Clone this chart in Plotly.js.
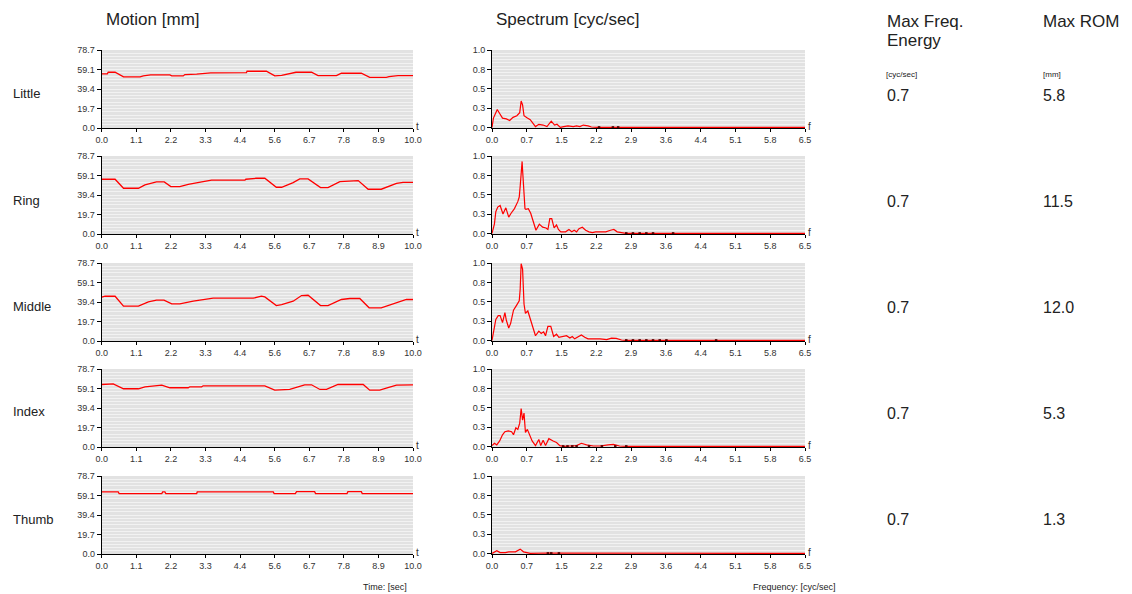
<!DOCTYPE html>
<html><head><meta charset="utf-8">
<script src="https://cdn.plot.ly/plotly-3.0.1.min.js"></script>
<style>html,body{margin:0;padding:0;background:#fff;} #chart{width:1132px;height:594px;}</style>
</head><body><div id="chart"></div>
<script>
// ---------- DATA ----------
const fingers = ['Little', 'Ring', 'Middle', 'Index', 'Thumb'];
const maxFreqEnergy = ['0.7', '0.7', '0.7', '0.7', '0.7'];
const maxROM = ['5.8', '11.5', '12.0', '5.3', '1.3'];

const timeTickText = ['0.0','1.1','2.2','3.3','4.4','5.6','6.7','7.8','8.9','10.0'];
const freqTickText = ['0.0','0.7','1.5','2.2','2.9','3.6','4.4','5.1','5.8','6.5'];
const motionTickText = ['0.0','19.7','39.4','59.1','78.7'];
const spectrumTickText = ['0.0','0.3','0.5','0.8','1.0'];
const timeMax = 10, freqMax = 6.55, motionMax = 78.75, spectrumMax = 1.0;

// Motion [mm] vs time [sec]
const littleT = [0,0.18,0.21,0.43,0.70,1.23,1.34,1.57,2.19,2.25,2.62,2.67,3.05,3.50,4.65,4.67,5.29,5.56,5.78,6.04,6.24,6.74,6.95,7.54,7.70,8.34,8.61,9.14,9.23,9.52,10];
const littleY = [54.6,54.6,56.3,56.3,51.6,51.6,52.6,53.6,53.6,52.6,52.6,53.9,54.3,55.6,55.9,57.3,57.3,52.6,53.2,54.9,56.3,56.3,52.9,52.9,55.3,55.3,51.2,51.2,51.9,52.9,52.9];
const ringT = [0,0.43,0.70,1.18,1.39,1.76,2.01,2.22,2.51,2.78,3.26,3.53,4.60,4.63,4.97,5.24,5.61,5.78,6.15,6.36,6.63,7.03,7.27,7.65,8.24,8.56,8.98,9.20,9.47,9.68,10];
const ringY = [55.3,55.3,46.2,46.2,49.6,52.6,52.6,47.9,47.9,50.2,52.9,54.3,54.3,55.3,56.3,56.3,47.2,47.2,51.9,55.6,55.6,46.9,46.9,52.9,53.9,45.2,45.2,47.9,51.2,52.2,52.2];
const middleT = [0,0.11,0.43,0.70,1.18,1.50,1.76,2.00,2.25,2.51,2.94,3.58,4.87,5.13,5.24,5.61,5.78,6.15,6.42,6.63,7.03,7.27,7.70,7.97,8.29,8.59,8.98,9.36,9.57,9.79,10];
const middleY = [44.2,45.2,45.2,35.2,35.2,39.5,41.2,41.2,37.5,37.5,40.2,43.2,43.2,45.2,44.5,35.8,36.8,40.2,45.9,46.2,35.8,35.8,41.9,42.9,42.9,33.5,33.5,37.8,40.2,41.9,41.9];
const indexT = [0,0.37,0.70,1.18,1.39,1.76,1.93,2.19,2.78,2.83,3.21,3.26,5.24,5.56,6.04,6.52,6.74,7.01,7.22,7.59,8.40,8.61,8.93,9.25,9.47,10];
const indexY = [63.1,63.8,58.8,58.8,60.8,62.4,62.4,59.8,59.8,60.8,60.8,61.8,61.8,57.4,58.1,62.8,62.8,58.1,58.1,63.1,63.1,57.4,57.4,60.4,62.4,62.8];
const thumbT = [0,0.53,0.56,1.93,1.96,2.03,2.06,3.05,3.07,5.51,5.54,6.22,6.26,6.84,6.87,7.88,7.91,8.34,8.37,10];
const thumbY = [62.7,62.7,61.0,61.0,62.7,62.7,61.0,61.0,62.7,62.7,61.0,61.0,63.0,63.0,61.0,61.0,63.0,63.0,61.0,61.0];

// Spectrum (normalised) vs frequency [cyc/sec]
const littleF = [0,0.03,0.08,0.11,0.16,0.22,0.30,0.37,0.44,0.52,0.58,0.61,0.64,0.67,0.74,0.80,0.91,0.98,1.07,1.15,1.24,1.31,1.36,1.43,1.50,1.59,1.70,1.77,1.84,1.91,2.01,2.08,2.20,6.55];
const littleS = [0,0.12,0.19,0.23,0.18,0.12,0.11,0.09,0.13,0.15,0.19,0.34,0.29,0.15,0.12,0.10,0.01,0.04,0.03,0.01,0.08,0.03,0.04,0,0.01,0.02,0.01,0.02,0.01,0.03,0.02,0.005,0,0];
const ringF = [0,0.05,0.08,0.12,0.17,0.20,0.23,0.29,0.35,0.40,0.47,0.54,0.57,0.59,0.61,0.63,0.64,0.66,0.69,0.71,0.76,0.81,0.86,0.92,0.99,1.06,1.13,1.17,1.21,1.25,1.30,1.35,1.39,1.44,1.54,1.61,1.67,1.72,1.77,1.82,1.89,1.96,2.03,2.10,2.17,2.27,2.38,2.48,2.55,2.62,2.72,2.80,6.55];
const ringS = [0,0.12,0.28,0.34,0.36,0.30,0.25,0.33,0.21,0.26,0.32,0.41,0.47,0.61,0.84,0.93,0.82,0.57,0.32,0.31,0.32,0.26,0.17,0.04,0.12,0.08,0.07,0.05,0.19,0.19,0.07,0.11,0.05,0.02,0.02,0.05,0.02,0.04,0.02,0.06,0.08,0.04,0.02,0.01,0.02,0.02,0.02,0.04,0.05,0.02,0.005,0,0];
const middleF = [0,0.04,0.08,0.13,0.17,0.22,0.27,0.30,0.35,0.39,0.45,0.51,0.57,0.59,0.61,0.64,0.65,0.67,0.70,0.75,0.80,0.86,0.91,0.98,1.03,1.08,1.12,1.17,1.23,1.29,1.35,1.40,1.47,1.56,1.63,1.68,1.73,1.80,1.87,1.94,2.01,2.12,2.26,2.40,2.50,2.60,2.71,2.80,6.55];
const middleS = [0,0.16,0.27,0.32,0.32,0.23,0.36,0.26,0.16,0.22,0.39,0.45,0.51,0.66,0.99,0.92,0.66,0.47,0.35,0.38,0.28,0.16,0.06,0.12,0.09,0.11,0.06,0.18,0.18,0.05,0.08,0.04,0.05,0.06,0.03,0.05,0.02,0.05,0.07,0.04,0.02,0.02,0.02,0.01,0.03,0.025,0.005,0,0];
const indexF = [0,0.05,0.10,0.16,0.22,0.27,0.34,0.41,0.45,0.50,0.54,0.58,0.61,0.64,0.67,0.70,0.74,0.79,0.84,0.91,0.98,1.02,1.07,1.12,1.19,1.28,1.35,1.42,1.50,1.63,1.77,1.87,1.98,2.12,2.26,2.43,2.54,2.67,2.81,6.55];
const indexS = [0.01,0.04,0.02,0.07,0.15,0.19,0.20,0.19,0.15,0.24,0.22,0.30,0.49,0.34,0.43,0.18,0.22,0.15,0.07,0.01,0.09,0.01,0.08,0.01,0.10,0.07,0.05,0.01,0,0.005,0.01,0.04,0.02,0.005,0.005,0.02,0.025,0.005,0,0];
const thumbF = [0,0.06,0.10,0.17,0.28,0.35,0.49,0.59,0.66,0.73,0.80,1.15,1.36,1.40,6.55];
const thumbS = [0,0.025,0.035,0.01,0.01,0.02,0.02,0.055,0.02,0.01,0,0.005,0.005,0,0];

// Dark near-zero bins on the spectrum baseline
const littleDarkF = [2.24, 2.53, 2.64];
const ringDarkF = [2.81, 2.95, 3.09, 3.23, 3.37, 3.79];
const middleDarkF = [2.81, 2.95, 3.09, 3.23, 3.37, 3.51, 3.65, 4.69];
const indexDarkF = [1.49, 1.58, 1.68, 1.77, 2.03, 2.30, 2.58, 2.81];
const thumbDarkF = [1.17, 1.24, 1.40];

const motionT = [littleT, ringT, middleT, indexT, thumbT];
const motionY = [littleY, ringY, middleY, indexY, thumbY];
const specF = [littleF, ringF, middleF, indexF, thumbF];
const specS = [littleS, ringS, middleS, indexS, thumbS];
const darkF = [littleDarkF, ringDarkF, middleDarkF, indexDarkF, thumbDarkF];

// ---------- LAYOUT ----------
const W = 1132, H = 594;
const FONT = 'Liberation Sans, Arial, sans-serif';
const px = x => x / W;
const py = y => 1 - y / H;
const panelTop = [50, 156, 263, 369, 476];
const panelH = 78;
const motionX = [101.7, 413];
const specX = [492, 805];

const data = [];
const layout = {
  width: W, height: H,
  margin: {l: 0, r: 0, t: 0, b: 0},
  paper_bgcolor: '#ffffff',
  plot_bgcolor: '#e2e2e2',
  showlegend: false,
  font: {family: FONT, size: 9, color: '#333'},
  annotations: []
};

function yAxis(domain, max, text, anchor) {
  const ticks = text.map((_, i) => i * max / (text.length - 1));
  return {
    domain: domain, range: [max === 1 ? -0.008 : 0, max], anchor: anchor,
    tickmode: 'array', tickvals: ticks, ticktext: text,
    ticks: 'outside', ticklen: 4, tickcolor: '#000', tickwidth: 1,
    showline: true, linecolor: '#000', linewidth: 1,
    showgrid: true, gridcolor: '#f2f2f2', gridwidth: 1,
    minor: {tickmode: 'linear', tick0: 0, dtick: max / 24, showgrid: true, gridcolor: '#f2f2f2', gridwidth: 1, ticklen: 0},
    zeroline: false, fixedrange: true,
    tickfont: {family: FONT, size: 9, color: '#333'}
  };
}
function xAxis(domain, max, text, anchor) {
  const ticks = text.map((_, i) => i * max / (text.length - 1));
  return {
    domain: domain, range: [0, max], anchor: anchor,
    tickmode: 'array', tickvals: ticks, ticktext: text,
    ticks: 'outside', ticklen: 3, tickcolor: '#000', tickwidth: 1,
    showline: true, linecolor: '#000', linewidth: 1,
    showgrid: false, zeroline: false, fixedrange: true,
    tickfont: {family: FONT, size: 9, color: '#333'}
  };
}

for (let r = 0; r < 5; r++) {
  const top = panelTop[r], bot = top + panelH;
  const yd = [py(bot), py(top)];
  const mi = 2 * r + 1, si = 2 * r + 2;
  const mx = 'x' + (mi === 1 ? '' : mi), my = 'y' + (mi === 1 ? '' : mi);
  const sx = 'x' + si, sy = 'y' + si;
  layout['xaxis' + (mi === 1 ? '' : mi)] = xAxis([px(motionX[0]), px(motionX[1])], timeMax, timeTickText, my);
  layout['yaxis' + (mi === 1 ? '' : mi)] = yAxis(yd, motionMax, motionTickText, mx);
  layout['xaxis' + si] = xAxis([px(specX[0]), px(specX[1])], freqMax, freqTickText, sy);
  layout['yaxis' + si] = yAxis(yd, spectrumMax, spectrumTickText, sx);

  data.push({type: 'scatter', mode: 'lines', x: motionT[r], y: motionY[r], xaxis: mx, yaxis: my,
    line: {color: '#ff0000', width: 1.3}, hoverinfo: 'skip'});
  data.push({type: 'scatter', mode: 'lines', x: specF[r], y: specS[r], xaxis: sx, yaxis: sy,
    line: {color: '#ff0000', width: 1.2}, hoverinfo: 'skip'});
  data.push({type: 'scatter', mode: 'markers', x: darkF[r], y: darkF[r].map(() => 0), xaxis: sx, yaxis: sy,
    marker: {symbol: 'square', size: 2.5, color: '#5a0000'}, cliponaxis: false, hoverinfo: 'skip'});

  const rowY = [93, 200, 306, 412, 519][r];
  const valY = [95, 201, 307, 413, 519][r];
  layout.annotations.push(
    {xref: 'paper', yref: 'paper', x: px(11), y: py(rowY), xanchor: 'left', yanchor: 'middle', showarrow: false,
     text: fingers[r], font: {family: FONT, size: 13, color: '#222'}},
    {xref: 'paper', yref: 'paper', x: px(885), y: py(valY), xanchor: 'left', yanchor: 'middle', showarrow: false,
     text: maxFreqEnergy[r], font: {family: FONT, size: 16, color: '#222'}},
    {xref: 'paper', yref: 'paper', x: px(1041), y: py(valY), xanchor: 'left', yanchor: 'middle', showarrow: false,
     text: maxROM[r], font: {family: FONT, size: 16, color: '#222'}},
    {xref: 'paper', yref: 'paper', x: px(414), y: py(bot - 2), xanchor: 'left', yanchor: 'middle', showarrow: false,
     text: 't', font: {family: FONT, size: 10, color: '#333'}},
    {xref: 'paper', yref: 'paper', x: px(806), y: py(bot - 2), xanchor: 'left', yanchor: 'middle', showarrow: false,
     text: 'f', font: {family: FONT, size: 10, color: '#333'}}
  );
}

const hdr = (text, x, y, size) => ({xref: 'paper', yref: 'paper', x: px(x), y: py(y), xanchor: 'left', yanchor: 'middle',
  showarrow: false, text: text, font: {family: FONT, size: size, color: '#222'}});
layout.annotations.push(
  hdr('Motion [mm]', 104, 20, 17),
  hdr('Spectrum [cyc/sec]', 494, 20, 17),
  hdr('Max Freq.', 885, 21, 17),
  hdr('Energy', 885, 41, 17),
  hdr('Max ROM', 1041, 21, 17),
  hdr('[cyc/sec]', 884, 74, 8),
  hdr('[mm]', 1041, 74, 8),
  hdr('Time: [sec]', 361, 587, 9),
  hdr('Frequency: [cyc/sec]', 751, 587, 9)
);

Plotly.newPlot('chart', data, layout, {staticPlot: true, displayModeBar: false});
</script>
</body></html>
